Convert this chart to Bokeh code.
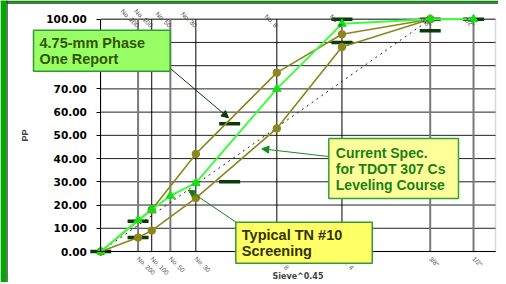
import math
from bokeh.plotting import figure
from bokeh.models import (Range1d, FixedTicker, LinearAxis, Label, Arrow, BoxAnnotation,
                          NormalHead, PrintfTickFormatter, ColumnDataSource)
from bokeh.embed import file_html
from bokeh.resources import INLINE

EXP = 0.45

# ---- axis sieves (mm) and their labels
axis_sieve_names = ["No. 200", "No. 100", "No. 50", "No. 30", "No. 8", "No. 4", '3/8"', '1/2"']
axis_sieve_mm = [0.075, 0.15, 0.3, 0.6, 2.36, 4.75, 9.5, 12.5]
dark_grid_mm = [0.15, 0.6, 2.36, 4.75]
grey_grid_mm = [0.075, 0.3, 9.5, 12.5]
y_ticks = [0, 10, 20, 30, 40, 50, 60, 70, 80, 90, 100]
x_max = 3.3

# ---- Typical TN #10 screening (green, triangles)
tn10_mm = [0, 0.075, 0.15, 0.3, 0.6, 2.36, 4.75, 9.5, 12.5]
tn10_pp = [0, 13.5, 18, 24, 29.5, 70, 98, 100, 100]

# ---- Current spec TDOT 307 Cs (olive band, circles)
spec_upper_mm = [0, 0.15, 0.6, 2.36, 4.75, 9.5]
spec_upper_pp = [0, 18, 42, 77, 93.5, 100]
spec_lower_mm = [0, 0.075, 0.15, 0.6, 2.36, 4.75, 9.5]
spec_lower_pp = [0, 6, 9, 23, 53, 88, 100]

# ---- 4.75-mm Phase One Report control points (dash markers)
phase1_mm = [0, 0.075, 0.075, 1.18, 1.18, 4.75, 4.75, 9.5, 9.5, 12.5]
phase1_pp = [0, 6, 13, 30, 55, 90, 100, 95, 100, 100]

# ---- maximum density line
maxden_mm = [0, 9.5]
maxden_pp = [0, 100]


def px(mm_list):
    return [round(m ** EXP, 4) for m in mm_list]


# figure geometry (in page px; canvas appears at page offset OFF)
OFF = 2
W, H = 498, 282
PL, PR, PT, PB = 102.3 - OFF, 497.0 - OFF, 20.7 - OFF, 253.0 - OFF
kx = x_max / (PR - PL)
ky = 100.0 / (PB - PT)

p = figure(width=W, height=H,
           x_range=Range1d(-PL * kx, x_max + (W - PR) * kx),
           y_range=Range1d(-(H - PB) * ky, 100 + PT * ky),
           output_backend="svg", toolbar_location=None, title=None,
           min_border=0)
p.background_fill_color = "white"
p.border_fill_color = "white"
p.outline_line_color = None
p.xgrid.visible = False
p.ygrid.visible = False


def dx(page_x):
    return (page_x - OFF - PL) * kx


def dy(page_y):
    return (PB - (page_y - OFF)) * ky


# slide decoration: green bands at top and left
p.add_layout(BoxAnnotation(bottom=dy(4), fill_color="#008a00", fill_alpha=1, line_color=None))
p.add_layout(BoxAnnotation(bottom=dy(5.2), top=dy(4), left=dx(8),
                           fill_color="#1a3a1a", fill_alpha=1, line_color=None))
p.add_layout(BoxAnnotation(right=dx(8), fill_color="#00a800", fill_alpha=1, line_color=None))
p.add_layout(BoxAnnotation(left=dx(8), right=dx(9.2), fill_color="#2a3a2a", fill_alpha=1,
                           line_color=None))

xt = px(axis_sieve_mm)
overrides = {t: n for t, n in zip(xt, axis_sieve_names)}

# grid lines drawn from tick arrays
p.segment(x0=[0] * len(y_ticks), x1=[x_max] * len(y_ticks), y0=y_ticks, y1=y_ticks,
          line_color="#222222", line_width=1)
g = px(grey_grid_mm)
p.segment(x0=g, x1=g, y0=[0] * len(g), y1=[100] * len(g), line_color="#7a7a7a", line_width=2)
d = px(dark_grid_mm)
p.segment(x0=d, x1=d, y0=[0] * len(d), y1=[100] * len(d), line_color="#000000", line_width=1)
p.add_layout(BoxAnnotation(left=0, right=x_max, bottom=0, top=100, fill_alpha=0,
                           line_color="#808080", line_width=1.5, level="underlay"))

# left axis
ya = p.yaxis[0]
ya.fixed_location = 0
ya.bounds = (0, 100)
ya.ticker = FixedTicker(ticks=y_ticks)
ya.formatter = PrintfTickFormatter(format="%.2f")
ya.major_label_text_font = "DejaVu Sans"
ya.major_label_text_font_style = "bold"
ya.major_label_text_font_size = "10.5px"
ya.major_label_text_color = "#000000"
ya.major_tick_out = 4
ya.major_tick_in = 0
ya.minor_tick_out = 0
ya.minor_tick_in = 0
ya.major_label_standoff = 10
ya.axis_line_color = "#000000"
ya.axis_label = "PP"
ya.axis_label_text_font = "Liberation Sans"
ya.axis_label_text_font_style = "bold"
ya.axis_label_text_font_size = "9px"
ya.axis_label_standoff = 13

# bottom axis
xa = p.xaxis[0]
xa.fixed_location = 0
xa.bounds = (0, x_max)
xa.ticker = FixedTicker(ticks=xt)
xa.major_label_overrides = overrides
xa.major_label_orientation = -math.pi / 4
xa.major_label_text_font = "Liberation Sans"
xa.major_label_text_font_size = "6.5px"
xa.major_label_text_color = "#555555"
xa.major_label_standoff = 6
xa.major_tick_out = 0
xa.major_tick_in = 0
xa.minor_tick_out = 0
xa.minor_tick_in = 0
xa.axis_line_color = "#000000"
xa.axis_label = "Sieve^0.45"
xa.axis_label_text_font = "DejaVu Sans"
xa.axis_label_text_font_style = "bold"
xa.axis_label_text_font_size = "8px"
xa.axis_label_standoff = -10

# top axis
ta = LinearAxis(fixed_location=100, bounds=(0, x_max),
                ticker=FixedTicker(ticks=xt), major_label_overrides=overrides,
                major_label_orientation=-math.pi / 4,
                major_label_text_font="Liberation Sans",
                major_label_text_font_size="6.5px",
                major_label_text_color="#444444",
                major_label_standoff=-7,
                major_tick_out=0, major_tick_in=0, minor_tick_out=0, minor_tick_in=0,
                axis_line_color=None)
p.add_layout(ta, "above")

# max density line
p.line(px(maxden_mm), maxden_pp, line_color="#222222", line_width=1, line_dash="2 4")

# phase one control points
src_p1 = ColumnDataSource(dict(x=px(phase1_mm), y=phase1_pp))
p.scatter("x", "y", source=src_p1, marker="dash", size=21, line_width=3.5,
          line_color="#0b3a0b")

# spec band
olive = "#8c861c"
for mm, pp in ((spec_upper_mm, spec_upper_pp), (spec_lower_mm, spec_lower_pp)):
    s = ColumnDataSource(dict(x=px(mm), y=pp))
    p.line("x", "y", source=s, line_color=olive, line_width=1.6)
    p.scatter("x", "y", source=s, marker="circle", size=7.5, fill_color=olive,
              line_color=olive)

# typical TN #10 screening
src_tn = ColumnDataSource(dict(x=px(tn10_mm), y=tn10_pp))
p.line("x", "y", source=src_tn, line_color="#3cff3c", line_width=2)
p.scatter("x", "y", source=src_tn, marker="triangle", size=8.5, fill_color="#11e011",
          line_color="#11e011")

# arrows (page-pixel anchor points converted to data coordinates)
for (x0, y0, x1, y1, c) in ((168, 66.7, 230, 119.3, "#0b3a0b"),
                            (330, 158, 263.3, 150.3, "#1a8a1a"),
                            (237.3, 223.5, 189.8, 191.5, "#1a7a1a")):
    p.add_layout(Arrow(end=NormalHead(size=7, fill_color=c, line_color=c),
                       x_start=dx(x0), y_start=dy(y0), x_end=dx(x1), y_end=dy(y1),
                       line_color=c, line_width=1))

# callout boxes
p.add_layout(Label(x=dx(35), y=dy(31.7), text="4.75-mm Phase\nOne Report", anchor="top_left",
                   text_font="Liberation Sans", text_font_style="bold",
                   text_font_size="14.5px", text_color="#335500", text_line_height=1.0,
                   background_fill_color="#99ff66", border_line_color="#339933",
                   border_line_width=1.5,
                   padding=dict(left=6, right=25, top=5, bottom=4)))
p.add_layout(Label(x=dx(330.3), y=dy(140), text="Current Spec.\nfor TDOT 307 Cs\nLeveling Course",
                   anchor="top_left",
                   text_font="Liberation Sans", text_font_style="bold",
                   text_font_size="14px", text_color="#1a7f1a", text_line_height=1.0,
                   background_fill_color="#ffff99", border_line_color="#33a033",
                   border_line_width=1.5,
                   padding=dict(left=7, right=13, top=6, bottom=6)))
p.add_layout(Label(x=dx(237.3), y=dy(223.7), text="Typical TN #10\nScreening", anchor="top_left",
                   text_font="Liberation Sans", text_font_style="bold",
                   text_font_size="14.5px", text_color="#333300", text_line_height=1.0,
                   background_fill_color="#ffff66", border_line_color="#339933",
                   border_line_width=1.5,
                   padding=dict(left=6, right=30, top=5, bottom=4)))

open("out.html", "w").write(file_html(p, INLINE))
